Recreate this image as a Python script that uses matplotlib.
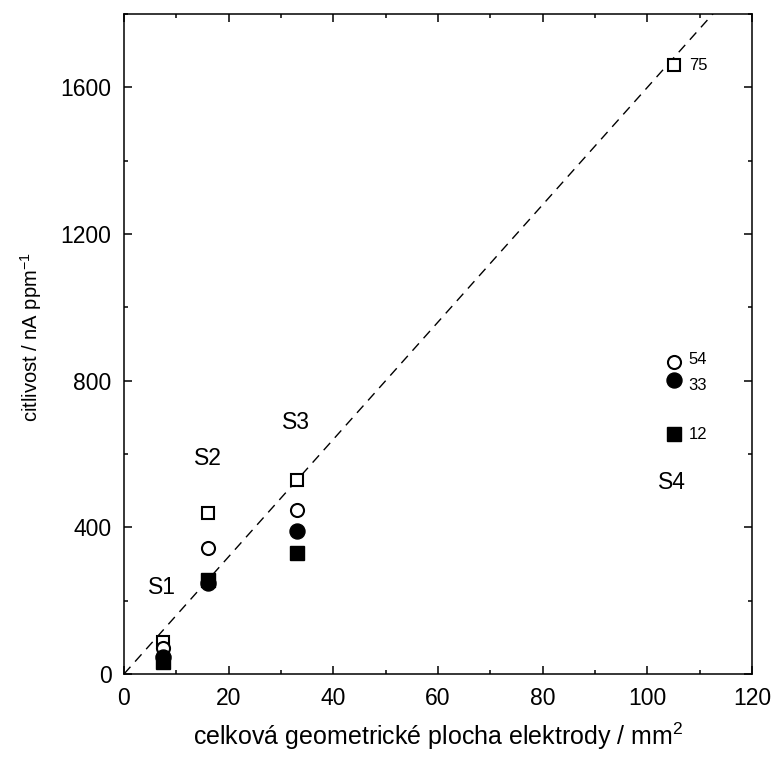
import matplotlib
matplotlib.use("Agg")
import matplotlib.pyplot as plt
from matplotlib.ticker import MultipleLocator

plt.rcParams['font.family'] = ['Liberation Sans', 'DejaVu Sans']
plt.rcParams['mathtext.fontset'] = 'custom'
plt.rcParams['mathtext.rm'] = 'Liberation Sans'

area = [7.5, 16.1, 33.0, 105.0]
sens_open_sq = [87, 440, 528, 1660]
sens_open_circ = [72, 343, 448, 851]
sens_fill_circ = [47, 248, 389, 803]
sens_fill_sq = [33, 257, 330, 654]
sensor_labels = ["S1", "S2", "S3", "S4"]
sensor_label_pos = [(7.2, 235), (16.0, 587), (32.9, 686), (104.7, 521)]
series_tags = ["75", "54", "33", "12"]
fit_slope = 16.0

fig = plt.figure(figsize=(7.71, 7.58), dpi=100)
ax = fig.add_axes([0.1608, 0.1108, 0.8146, 0.8707])

xs = [0, 120]
ax.plot(xs, [fit_slope * v for v in xs], ls=(0, (7, 5)), color='black', lw=1.0)

ax.plot(area, sens_open_sq, 's', mfc='white', mec='black', mew=1.5, ms=8.3, ls='none')
ax.plot(area, sens_open_circ, 'o', mfc='white', mec='black', mew=1.5, ms=9.4, ls='none')
ax.plot(area, sens_fill_circ, 'o', mfc='black', mec='black', ms=10.8, ls='none')
ax.plot(area, sens_fill_sq, 's', mfc='black', mec='black', ms=9.4, ls='none')

for lab, (x, y) in zip(sensor_labels, sensor_label_pos):
    ax.text(x, y, lab, fontsize=16.5, ha='center', va='center')

tag_vals = [sens_open_sq[3], sens_open_circ[3], sens_fill_circ[3], sens_fill_sq[3]]
tag_dy = [0, 8, -15, 0]
for t, v, dy in zip(series_tags, tag_vals, tag_dy):
    ax.text(area[3] + 2.9, v + dy, t, fontsize=12, ha='left', va='center')

ax.set_xlim(0, 120)
ax.set_ylim(0, 1800)
ax.xaxis.set_major_locator(MultipleLocator(20))
ax.xaxis.set_minor_locator(MultipleLocator(10))
ax.yaxis.set_major_locator(MultipleLocator(400))
ax.yaxis.set_minor_locator(MultipleLocator(200))
ax.tick_params(which='both', direction='in', top=True, right=True, labelsize=16.5, width=1.1, pad=9)
ax.tick_params(which='major', length=6)
ax.tick_params(which='minor', length=3)
for s in ax.spines.values():
    s.set_linewidth(1.1)

ax.set_xlabel('celková geometrické plocha elektrody / mm$^2$', fontsize=18)
ax.xaxis.set_label_coords(0.5, -0.071)
ax.set_ylabel('citlivost / nA ppm$^{-1}$', fontsize=14.5)
ax.yaxis.set_label_coords(-0.127, 0.51)

fig.savefig('out.png', dpi=100)
